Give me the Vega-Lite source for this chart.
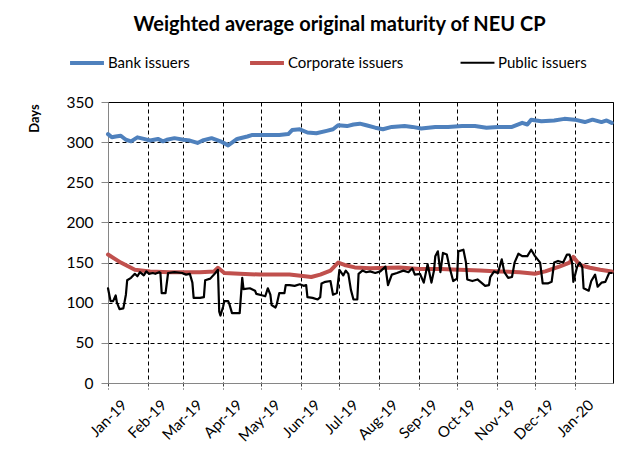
{
  "$schema": "https://vega.github.io/schema/vega-lite/v6.json",
  "width": 505,
  "height": 281,
  "autosize": {"type": "none"},
  "padding": {"left": 108, "top": 102, "right": 31, "bottom": 72},
  "background": "white",
  "title": {"text": "Weighted average original maturity of NEU CP", "font": "Lato", "fontSize": 20, "fontWeight": "bold", "color": "#000000", "anchor": "middle", "dx": -21, "baseline": "alphabetic", "offset": -7},
  "data": {"values": [
    {"date": "2019-01-01", "days": 310, "series": "Bank issuers"},
    {"date": "2019-01-04", "days": 306, "series": "Bank issuers"},
    {"date": "2019-01-07", "days": 307, "series": "Bank issuers"},
    {"date": "2019-01-11", "days": 308, "series": "Bank issuers"},
    {"date": "2019-01-15", "days": 303, "series": "Bank issuers"},
    {"date": "2019-01-19", "days": 301, "series": "Bank issuers"},
    {"date": "2019-01-24", "days": 306, "series": "Bank issuers"},
    {"date": "2019-01-29", "days": 304, "series": "Bank issuers"},
    {"date": "2019-02-03", "days": 302, "series": "Bank issuers"},
    {"date": "2019-02-09", "days": 304, "series": "Bank issuers"},
    {"date": "2019-02-13", "days": 301, "series": "Bank issuers"},
    {"date": "2019-02-16", "days": 303, "series": "Bank issuers"},
    {"date": "2019-02-22", "days": 305, "series": "Bank issuers"},
    {"date": "2019-03-01", "days": 303, "series": "Bank issuers"},
    {"date": "2019-03-06", "days": 302, "series": "Bank issuers"},
    {"date": "2019-03-12", "days": 299, "series": "Bank issuers"},
    {"date": "2019-03-16", "days": 302, "series": "Bank issuers"},
    {"date": "2019-03-23", "days": 305, "series": "Bank issuers"},
    {"date": "2019-03-30", "days": 301, "series": "Bank issuers"},
    {"date": "2019-04-05", "days": 296, "series": "Bank issuers"},
    {"date": "2019-04-12", "days": 304, "series": "Bank issuers"},
    {"date": "2019-04-20", "days": 307, "series": "Bank issuers"},
    {"date": "2019-04-24", "days": 309, "series": "Bank issuers"},
    {"date": "2019-05-05", "days": 309, "series": "Bank issuers"},
    {"date": "2019-05-15", "days": 309, "series": "Bank issuers"},
    {"date": "2019-05-22", "days": 310, "series": "Bank issuers"},
    {"date": "2019-05-25", "days": 315, "series": "Bank issuers"},
    {"date": "2019-05-31", "days": 316, "series": "Bank issuers"},
    {"date": "2019-06-06", "days": 312, "series": "Bank issuers"},
    {"date": "2019-06-13", "days": 311, "series": "Bank issuers"},
    {"date": "2019-06-21", "days": 314, "series": "Bank issuers"},
    {"date": "2019-06-26", "days": 316, "series": "Bank issuers"},
    {"date": "2019-06-30", "days": 321, "series": "Bank issuers"},
    {"date": "2019-07-07", "days": 320, "series": "Bank issuers"},
    {"date": "2019-07-12", "days": 322, "series": "Bank issuers"},
    {"date": "2019-07-17", "days": 323, "series": "Bank issuers"},
    {"date": "2019-07-22", "days": 321, "series": "Bank issuers"},
    {"date": "2019-07-29", "days": 318, "series": "Bank issuers"},
    {"date": "2019-08-04", "days": 316, "series": "Bank issuers"},
    {"date": "2019-08-11", "days": 319, "series": "Bank issuers"},
    {"date": "2019-08-21", "days": 320, "series": "Bank issuers"},
    {"date": "2019-08-27", "days": 319, "series": "Bank issuers"},
    {"date": "2019-09-03", "days": 317, "series": "Bank issuers"},
    {"date": "2019-09-14", "days": 319, "series": "Bank issuers"},
    {"date": "2019-09-24", "days": 319, "series": "Bank issuers"},
    {"date": "2019-10-05", "days": 320, "series": "Bank issuers"},
    {"date": "2019-10-15", "days": 320, "series": "Bank issuers"},
    {"date": "2019-10-24", "days": 318, "series": "Bank issuers"},
    {"date": "2019-11-02", "days": 319, "series": "Bank issuers"},
    {"date": "2019-11-13", "days": 319, "series": "Bank issuers"},
    {"date": "2019-11-21", "days": 324, "series": "Bank issuers"},
    {"date": "2019-11-25", "days": 322, "series": "Bank issuers"},
    {"date": "2019-11-28", "days": 328, "series": "Bank issuers"},
    {"date": "2019-12-06", "days": 326, "series": "Bank issuers"},
    {"date": "2019-12-16", "days": 327, "series": "Bank issuers"},
    {"date": "2019-12-24", "days": 329, "series": "Bank issuers"},
    {"date": "2020-01-01", "days": 328, "series": "Bank issuers"},
    {"date": "2020-01-09", "days": 325, "series": "Bank issuers"},
    {"date": "2020-01-15", "days": 328, "series": "Bank issuers"},
    {"date": "2020-01-22", "days": 325, "series": "Bank issuers"},
    {"date": "2020-01-26", "days": 327, "series": "Bank issuers"},
    {"date": "2020-01-30", "days": 324, "series": "Bank issuers"},

    {"date": "2019-01-01", "days": 160, "series": "Corporate issuers"},
    {"date": "2019-01-11", "days": 150, "series": "Corporate issuers"},
    {"date": "2019-01-22", "days": 141, "series": "Corporate issuers"},
    {"date": "2019-02-03", "days": 139, "series": "Corporate issuers"},
    {"date": "2019-02-18", "days": 138, "series": "Corporate issuers"},
    {"date": "2019-03-14", "days": 138, "series": "Corporate issuers"},
    {"date": "2019-03-25", "days": 139, "series": "Corporate issuers"},
    {"date": "2019-03-28", "days": 143.5, "series": "Corporate issuers"},
    {"date": "2019-04-02", "days": 137, "series": "Corporate issuers"},
    {"date": "2019-04-14", "days": 136, "series": "Corporate issuers"},
    {"date": "2019-04-30", "days": 135, "series": "Corporate issuers"},
    {"date": "2019-05-23", "days": 135, "series": "Corporate issuers"},
    {"date": "2019-06-04", "days": 133, "series": "Corporate issuers"},
    {"date": "2019-06-09", "days": 132, "series": "Corporate issuers"},
    {"date": "2019-06-16", "days": 135, "series": "Corporate issuers"},
    {"date": "2019-06-24", "days": 140, "series": "Corporate issuers"},
    {"date": "2019-06-27", "days": 145, "series": "Corporate issuers"},
    {"date": "2019-06-30", "days": 150, "series": "Corporate issuers"},
    {"date": "2019-07-05", "days": 147, "series": "Corporate issuers"},
    {"date": "2019-07-13", "days": 144, "series": "Corporate issuers"},
    {"date": "2019-07-25", "days": 143, "series": "Corporate issuers"},
    {"date": "2019-08-17", "days": 144, "series": "Corporate issuers"},
    {"date": "2019-09-02", "days": 142, "series": "Corporate issuers"},
    {"date": "2019-09-18", "days": 142, "series": "Corporate issuers"},
    {"date": "2019-10-03", "days": 141, "series": "Corporate issuers"},
    {"date": "2019-10-19", "days": 140, "series": "Corporate issuers"},
    {"date": "2019-11-03", "days": 139, "series": "Corporate issuers"},
    {"date": "2019-11-19", "days": 138, "series": "Corporate issuers"},
    {"date": "2019-12-01", "days": 136, "series": "Corporate issuers"},
    {"date": "2019-12-09", "days": 139, "series": "Corporate issuers"},
    {"date": "2019-12-20", "days": 145, "series": "Corporate issuers"},
    {"date": "2019-12-28", "days": 150, "series": "Corporate issuers"},
    {"date": "2019-12-31", "days": 157, "series": "Corporate issuers"},
    {"date": "2020-01-05", "days": 147, "series": "Corporate issuers"},
    {"date": "2020-01-13", "days": 143.5, "series": "Corporate issuers"},
    {"date": "2020-01-21", "days": 141, "series": "Corporate issuers"},
    {"date": "2020-01-30", "days": 139, "series": "Corporate issuers"},

    {"date": "2019-01-01", "days": 118, "series": "Public issuers"},
    {"date": "2019-01-03", "days": 102, "series": "Public issuers"},
    {"date": "2019-01-05", "days": 102, "series": "Public issuers"},
    {"date": "2019-01-07", "days": 109, "series": "Public issuers"},
    {"date": "2019-01-08", "days": 100, "series": "Public issuers"},
    {"date": "2019-01-10", "days": 92, "series": "Public issuers"},
    {"date": "2019-01-13", "days": 93, "series": "Public issuers"},
    {"date": "2019-01-15", "days": 110, "series": "Public issuers"},
    {"date": "2019-01-16", "days": 128, "series": "Public issuers"},
    {"date": "2019-01-19", "days": 131, "series": "Public issuers"},
    {"date": "2019-01-22", "days": 136, "series": "Public issuers"},
    {"date": "2019-01-24", "days": 133, "series": "Public issuers"},
    {"date": "2019-01-26", "days": 138, "series": "Public issuers"},
    {"date": "2019-01-29", "days": 134, "series": "Public issuers"},
    {"date": "2019-01-31", "days": 139, "series": "Public issuers"},
    {"date": "2019-02-02", "days": 136, "series": "Public issuers"},
    {"date": "2019-02-05", "days": 137, "series": "Public issuers"},
    {"date": "2019-02-07", "days": 136, "series": "Public issuers"},
    {"date": "2019-02-10", "days": 138, "series": "Public issuers"},
    {"date": "2019-02-11", "days": 137, "series": "Public issuers"},
    {"date": "2019-02-12", "days": 112, "series": "Public issuers"},
    {"date": "2019-02-15", "days": 112, "series": "Public issuers"},
    {"date": "2019-02-17", "days": 137, "series": "Public issuers"},
    {"date": "2019-02-22", "days": 138, "series": "Public issuers"},
    {"date": "2019-02-28", "days": 137, "series": "Public issuers"},
    {"date": "2019-03-03", "days": 135, "series": "Public issuers"},
    {"date": "2019-03-06", "days": 136, "series": "Public issuers"},
    {"date": "2019-03-08", "days": 125, "series": "Public issuers"},
    {"date": "2019-03-09", "days": 106, "series": "Public issuers"},
    {"date": "2019-03-14", "days": 106, "series": "Public issuers"},
    {"date": "2019-03-17", "days": 107, "series": "Public issuers"},
    {"date": "2019-03-18", "days": 128, "series": "Public issuers"},
    {"date": "2019-03-22", "days": 130, "series": "Public issuers"},
    {"date": "2019-03-26", "days": 137, "series": "Public issuers"},
    {"date": "2019-03-28", "days": 141, "series": "Public issuers"},
    {"date": "2019-03-29", "days": 89, "series": "Public issuers"},
    {"date": "2019-03-30", "days": 84, "series": "Public issuers"},
    {"date": "2019-04-01", "days": 95, "series": "Public issuers"},
    {"date": "2019-04-02", "days": 102, "series": "Public issuers"},
    {"date": "2019-04-05", "days": 102, "series": "Public issuers"},
    {"date": "2019-04-06", "days": 98, "series": "Public issuers"},
    {"date": "2019-04-08", "days": 87, "series": "Public issuers"},
    {"date": "2019-04-14", "days": 87, "series": "Public issuers"},
    {"date": "2019-04-16", "days": 131, "series": "Public issuers"},
    {"date": "2019-04-17", "days": 117, "series": "Public issuers"},
    {"date": "2019-04-22", "days": 118, "series": "Public issuers"},
    {"date": "2019-04-26", "days": 115, "series": "Public issuers"},
    {"date": "2019-04-27", "days": 111, "series": "Public issuers"},
    {"date": "2019-05-02", "days": 109, "series": "Public issuers"},
    {"date": "2019-05-04", "days": 108, "series": "Public issuers"},
    {"date": "2019-05-06", "days": 118, "series": "Public issuers"},
    {"date": "2019-05-08", "days": 110, "series": "Public issuers"},
    {"date": "2019-05-09", "days": 97, "series": "Public issuers"},
    {"date": "2019-05-12", "days": 94, "series": "Public issuers"},
    {"date": "2019-05-13", "days": 98, "series": "Public issuers"},
    {"date": "2019-05-15", "days": 112, "series": "Public issuers"},
    {"date": "2019-05-19", "days": 112, "series": "Public issuers"},
    {"date": "2019-05-20", "days": 122, "series": "Public issuers"},
    {"date": "2019-05-23", "days": 122, "series": "Public issuers"},
    {"date": "2019-05-27", "days": 121, "series": "Public issuers"},
    {"date": "2019-05-31", "days": 123, "series": "Public issuers"},
    {"date": "2019-06-03", "days": 121, "series": "Public issuers"},
    {"date": "2019-06-05", "days": 122, "series": "Public issuers"},
    {"date": "2019-06-06", "days": 107, "series": "Public issuers"},
    {"date": "2019-06-10", "days": 106, "series": "Public issuers"},
    {"date": "2019-06-14", "days": 104, "series": "Public issuers"},
    {"date": "2019-06-16", "days": 107, "series": "Public issuers"},
    {"date": "2019-06-17", "days": 124, "series": "Public issuers"},
    {"date": "2019-06-20", "days": 126, "series": "Public issuers"},
    {"date": "2019-06-24", "days": 127, "series": "Public issuers"},
    {"date": "2019-06-26", "days": 110, "series": "Public issuers"},
    {"date": "2019-06-29", "days": 112, "series": "Public issuers"},
    {"date": "2019-07-01", "days": 141, "series": "Public issuers"},
    {"date": "2019-07-04", "days": 134, "series": "Public issuers"},
    {"date": "2019-07-06", "days": 140, "series": "Public issuers"},
    {"date": "2019-07-08", "days": 136, "series": "Public issuers"},
    {"date": "2019-07-10", "days": 116, "series": "Public issuers"},
    {"date": "2019-07-12", "days": 104, "series": "Public issuers"},
    {"date": "2019-07-15", "days": 104, "series": "Public issuers"},
    {"date": "2019-07-16", "days": 136, "series": "Public issuers"},
    {"date": "2019-07-19", "days": 140, "series": "Public issuers"},
    {"date": "2019-07-22", "days": 138, "series": "Public issuers"},
    {"date": "2019-07-25", "days": 139, "series": "Public issuers"},
    {"date": "2019-07-29", "days": 137, "series": "Public issuers"},
    {"date": "2019-08-02", "days": 139, "series": "Public issuers"},
    {"date": "2019-08-06", "days": 145, "series": "Public issuers"},
    {"date": "2019-08-08", "days": 122, "series": "Public issuers"},
    {"date": "2019-08-11", "days": 135, "series": "Public issuers"},
    {"date": "2019-08-15", "days": 137, "series": "Public issuers"},
    {"date": "2019-08-20", "days": 140, "series": "Public issuers"},
    {"date": "2019-08-24", "days": 138, "series": "Public issuers"},
    {"date": "2019-08-27", "days": 143, "series": "Public issuers"},
    {"date": "2019-08-29", "days": 135, "series": "Public issuers"},
    {"date": "2019-09-02", "days": 136, "series": "Public issuers"},
    {"date": "2019-09-05", "days": 125, "series": "Public issuers"},
    {"date": "2019-09-08", "days": 148, "series": "Public issuers"},
    {"date": "2019-09-11", "days": 125, "series": "Public issuers"},
    {"date": "2019-09-13", "days": 140, "series": "Public issuers"},
    {"date": "2019-09-14", "days": 158, "series": "Public issuers"},
    {"date": "2019-09-16", "days": 164, "series": "Public issuers"},
    {"date": "2019-09-18", "days": 138, "series": "Public issuers"},
    {"date": "2019-09-20", "days": 162, "series": "Public issuers"},
    {"date": "2019-09-23", "days": 160, "series": "Public issuers"},
    {"date": "2019-09-25", "days": 145, "series": "Public issuers"},
    {"date": "2019-09-28", "days": 127, "series": "Public issuers"},
    {"date": "2019-10-01", "days": 130, "series": "Public issuers"},
    {"date": "2019-10-02", "days": 164, "series": "Public issuers"},
    {"date": "2019-10-06", "days": 166, "series": "Public issuers"},
    {"date": "2019-10-08", "days": 150, "series": "Public issuers"},
    {"date": "2019-10-09", "days": 129, "series": "Public issuers"},
    {"date": "2019-10-13", "days": 127, "series": "Public issuers"},
    {"date": "2019-10-17", "days": 129, "series": "Public issuers"},
    {"date": "2019-10-20", "days": 125, "series": "Public issuers"},
    {"date": "2019-10-23", "days": 121, "series": "Public issuers"},
    {"date": "2019-10-26", "days": 122, "series": "Public issuers"},
    {"date": "2019-10-27", "days": 132, "series": "Public issuers"},
    {"date": "2019-10-30", "days": 139, "series": "Public issuers"},
    {"date": "2019-11-02", "days": 137, "series": "Public issuers"},
    {"date": "2019-11-05", "days": 154, "series": "Public issuers"},
    {"date": "2019-11-07", "days": 138, "series": "Public issuers"},
    {"date": "2019-11-10", "days": 131, "series": "Public issuers"},
    {"date": "2019-11-13", "days": 132, "series": "Public issuers"},
    {"date": "2019-11-15", "days": 150, "series": "Public issuers"},
    {"date": "2019-11-18", "days": 161, "series": "Public issuers"},
    {"date": "2019-11-21", "days": 158, "series": "Public issuers"},
    {"date": "2019-11-25", "days": 158, "series": "Public issuers"},
    {"date": "2019-11-28", "days": 166, "series": "Public issuers"},
    {"date": "2019-12-01", "days": 158, "series": "Public issuers"},
    {"date": "2019-12-05", "days": 150, "series": "Public issuers"},
    {"date": "2019-12-07", "days": 124, "series": "Public issuers"},
    {"date": "2019-12-11", "days": 124, "series": "Public issuers"},
    {"date": "2019-12-14", "days": 126, "series": "Public issuers"},
    {"date": "2019-12-16", "days": 150, "series": "Public issuers"},
    {"date": "2019-12-19", "days": 152, "series": "Public issuers"},
    {"date": "2019-12-23", "days": 150, "series": "Public issuers"},
    {"date": "2019-12-26", "days": 160, "series": "Public issuers"},
    {"date": "2019-12-28", "days": 160, "series": "Public issuers"},
    {"date": "2019-12-30", "days": 150, "series": "Public issuers"},
    {"date": "2019-12-31", "days": 126, "series": "Public issuers"},
    {"date": "2020-01-03", "days": 145, "series": "Public issuers"},
    {"date": "2020-01-05", "days": 150, "series": "Public issuers"},
    {"date": "2020-01-07", "days": 144, "series": "Public issuers"},
    {"date": "2020-01-08", "days": 118, "series": "Public issuers"},
    {"date": "2020-01-12", "days": 115, "series": "Public issuers"},
    {"date": "2020-01-14", "days": 127, "series": "Public issuers"},
    {"date": "2020-01-17", "days": 135, "series": "Public issuers"},
    {"date": "2020-01-19", "days": 120, "series": "Public issuers"},
    {"date": "2020-01-22", "days": 125, "series": "Public issuers"},
    {"date": "2020-01-25", "days": 126, "series": "Public issuers"},
    {"date": "2020-01-28", "days": 137, "series": "Public issuers"},
    {"date": "2020-01-30", "days": 137, "series": "Public issuers"}
  ]},
  "mark": {"type": "line", "interpolate": "linear", "strokeJoin": "round", "strokeCap": "round"},
  "encoding": {
    "x": {
      "field": "date", "type": "temporal",
      "scale": {"type": "utc", "domain": [{"year": 2019, "month": 1, "date": 1, "utc": true}, {"year": 2020, "month": 1, "date": 31, "utc": true}]},
      "axis": {
        "title": null,
        "values": [
          {"year": 2019, "month": 1, "date": 1, "utc": true},
          {"year": 2019, "month": 2, "date": 1, "utc": true},
          {"year": 2019, "month": 3, "date": 1, "utc": true},
          {"year": 2019, "month": 4, "date": 1, "utc": true},
          {"year": 2019, "month": 5, "date": 1, "utc": true},
          {"year": 2019, "month": 6, "date": 1, "utc": true},
          {"year": 2019, "month": 7, "date": 1, "utc": true},
          {"year": 2019, "month": 8, "date": 1, "utc": true},
          {"year": 2019, "month": 9, "date": 1, "utc": true},
          {"year": 2019, "month": 10, "date": 1, "utc": true},
          {"year": 2019, "month": 11, "date": 1, "utc": true},
          {"year": 2019, "month": 12, "date": 1, "utc": true},
          {"year": 2020, "month": 1, "date": 1, "utc": true}
        ],
        "format": "%b-%y",
        "labelAngle": -45,
        "labelAlign": "right",
        "labelBaseline": "top",
        "labelFont": "Lato",
        "labelFontSize": 15,
        "labelColor": "#000000",
        "labelPadding": 8,
        "labelOffset": 11,
        "labelOverlap": false,
        "labelFlush": false,
        "grid": true,
        "gridColor": {"condition": {"test": "datum.value < 1546387200000", "value": "transparent"}, "value": "#000000"},
        "gridDash": [4, 3],
        "gridWidth": 1,
        "domainColor": "#868686",
        "domainWidth": 1,
        "tickColor": "#404040",
        "tickSize": 6,
        "tickDash": [3, 2]
      }
    },
    "y": {
      "field": "days", "type": "quantitative",
      "scale": {"domain": [0, 350], "nice": false},
      "axis": {
        "values": [0, 50, 100, 150, 200, 250, 300, 350],
        "title": "Days",
        "titleFont": "Lato",
        "titleFontSize": 13,
        "titleFontWeight": "bold",
        "titleColor": "#000000",
        "titleAngle": -90,
        "titleAlign": "center",
        "titleBaseline": "middle",
        "titleX": -74,
        "titleY": 16,
        "labelFont": "Lato",
        "labelFontSize": 15.5,
        "labelColor": "#000000",
        "labelPadding": 8,
        "grid": true,
        "gridColor": {"condition": {"test": "datum.value == 0", "value": "transparent"}, "value": "#000000"},
        "gridDash": [4, 3],
        "gridWidth": 1,
        "domainColor": "#868686",
        "tickColor": "#868686",
        "tickSize": 7
      }
    },
    "color": {
      "field": "series", "type": "nominal",
      "scale": {"domain": ["Bank issuers", "Corporate issuers", "Public issuers"], "range": ["#4F81BD", "#C0504D", "#000000"]},
      "legend": {
        "title": null,
        "orient": "none",
        "legendX": -40,
        "legendY": -58,
        "direction": "horizontal",
        "symbolType": "stroke",
        "symbolSize": 1150,
        "symbolStrokeWidth": 4,
        "labelFont": "Lato",
        "labelFontSize": 15,
        "labelColor": "#000000",
        "labelOffset": 2,
        "columnPadding": 52
      }
    },
    "strokeWidth": {
      "field": "series", "type": "nominal",
      "scale": {"type": "ordinal", "domain": ["Bank issuers", "Corporate issuers", "Public issuers"], "range": [4, 4, 2.2]},
      "legend": null
    }
  },
  "config": {
    "view": {"stroke": "#000000", "strokeWidth": 1}
  }
}
